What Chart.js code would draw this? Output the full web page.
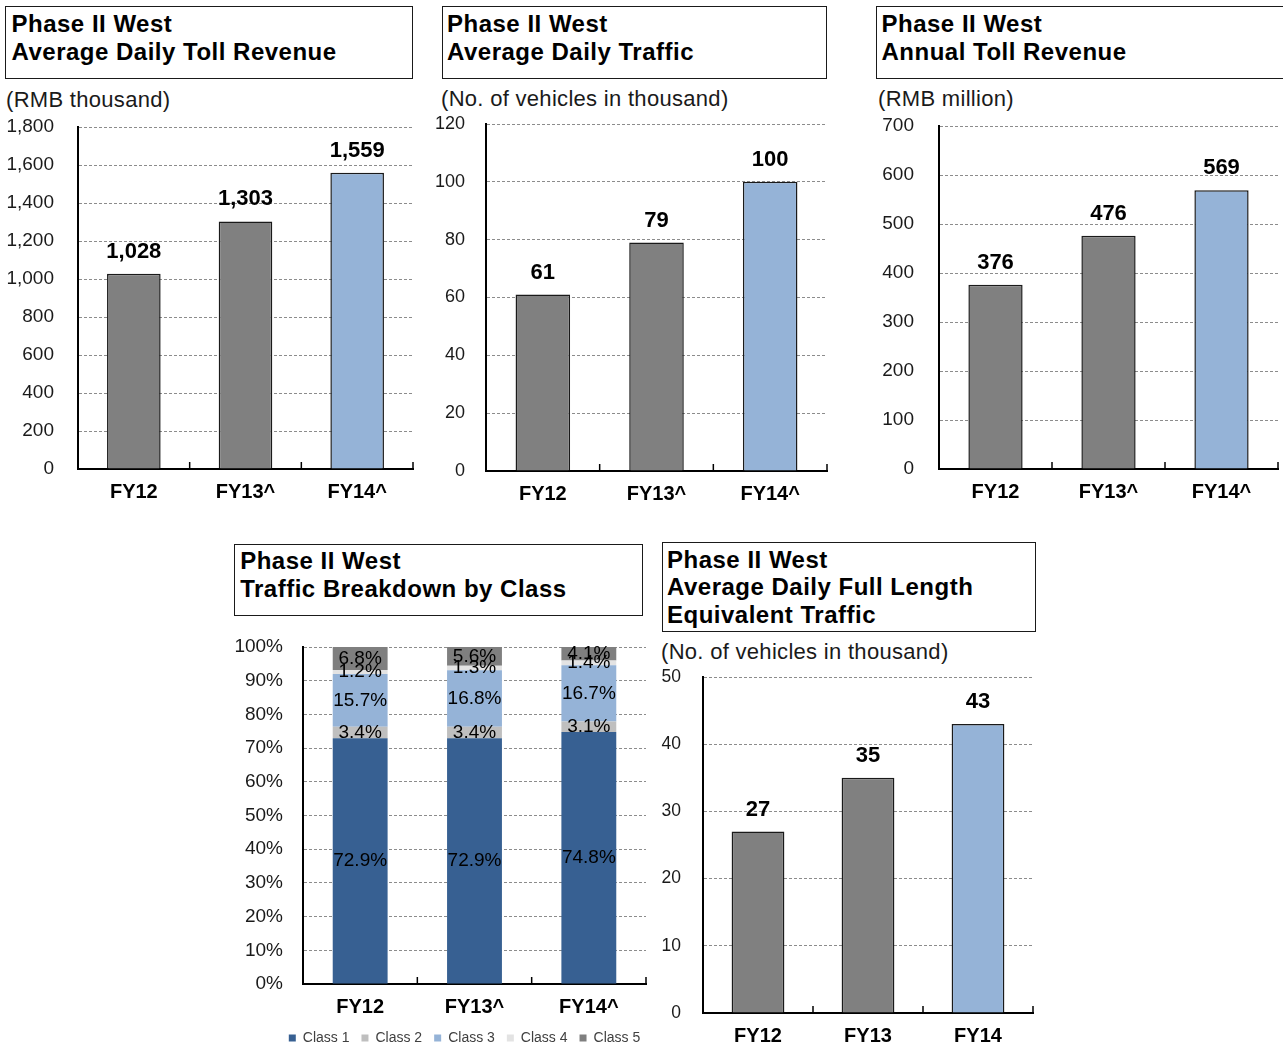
<!DOCTYPE html>
<html><head><meta charset="utf-8">
<script src="https://cdn.jsdelivr.net/npm/chart.js@4.4.1/dist/chart.umd.min.js"></script>
<style>
html,body{margin:0;padding:0;background:#fff;overflow:hidden;width:1283px;height:1051px;}
body{position:relative;font-family:'Liberation Sans',Arial,sans-serif;}
.tbox{position:absolute;box-sizing:border-box;border:1.5px solid #1a1a1a;font-weight:bold;font-size:24px;letter-spacing:0.5px;line-height:28.4px;color:#000;white-space:nowrap;overflow:hidden;}
.unit{position:absolute;font-size:22px;letter-spacing:0.3px;line-height:22px;color:#1a1a1a;white-space:nowrap;}
.wrap{position:absolute;}
</style></head><body>

<div class="tbox" style="left:5px;top:6px;width:408px;height:73px;padding:3px 0 0 5.5px;">Phase II West<br>Average Daily Toll Revenue</div>
<div class="tbox" style="left:442px;top:6px;width:385px;height:73px;padding:3px 0 0 4px;">Phase II West<br>Average Daily Traffic</div>
<div class="tbox" style="left:876px;top:6px;width:420px;height:73px;padding:3px 0 0 4.5px;">Phase II West<br>Annual Toll Revenue</div>
<div class="tbox" style="left:234px;top:544px;width:409px;height:72px;padding:1.7px 0 0 5.2px;">Phase II West<br>Traffic Breakdown by Class</div>
<div class="tbox" style="left:662px;top:542px;width:374px;height:90px;padding:2.7px 0 0 4px;line-height:27.5px;">Phase II West<br>Average Daily Full Length<br>Equivalent Traffic</div>

<div class="unit" style="left:6px;top:89px;">(RMB thousand)</div>
<div class="unit" style="left:441px;top:88px;">(No. of vehicles in thousand)</div>
<div class="unit" style="left:878px;top:88px;">(RMB million)</div>
<div class="unit" style="left:661px;top:641px;">(No. of vehicles in thousand)</div>

<div class="wrap" style="left:0px;top:110px;width:415px;height:400px;"><canvas id="c1"></canvas></div>
<div class="wrap" style="left:430px;top:108px;width:399px;height:403px;"><canvas id="c2"></canvas></div>
<div class="wrap" style="left:860px;top:110px;width:420px;height:399px;"><canvas id="c3"></canvas></div>
<div class="wrap" style="left:220px;top:630px;width:489px;height:425px;"><canvas id="c4"></canvas></div>
<div class="wrap" style="left:650px;top:660px;width:385px;height:393px;"><canvas id="c5"></canvas></div>

<script>
// ---- Data ----
const categories = ['FY12', 'FY13^', 'FY14^'];
const categoriesFLE = ['FY12', 'FY13', 'FY14'];
const dailyTollRevenue = [1028, 1303, 1559];      // RMB thousand
const dailyTraffic = [61, 79, 100];               // thousand vehicles
const annualTollRevenue = [376, 476, 569];        // RMB million
const class1Share = [72.9, 72.9, 74.8];
const class2Share = [3.4, 3.4, 3.1];
const class3Share = [15.7, 16.8, 16.7];
const class4Share = [1.2, 1.3, 1.4];
const class5Share = [6.8, 5.6, 4.1];
const classNames = ['Class 1', 'Class 2', 'Class 3', 'Class 4', 'Class 5'];
const fleTraffic = [27, 35, 43];                  // thousand vehicles

// ---- Styling ----
const FONT = "'Liberation Sans', Arial, sans-serif";
Chart.defaults.font.family = FONT;
Chart.defaults.color = '#1a1a1a';
Chart.defaults.animation = false;
const GRID = '#8c8c8c';
const GRAY = '#808080', LIGHTBLUE = '#95B3D7';
const barColors = [GRAY, GRAY, LIGHTBLUE];
const classColors = ['#376092', '#BFBFBF', '#95B3D7', '#E3E3E3', '#7F7F7F'];

const boundaryTicks = {
  id: 'boundaryTicks',
  afterDraw(chart) {
    const x = chart.scales.x, ctx = chart.ctx;
    const n = x.ticks.length, w = (x.right - x.left) / n;
    const b = chart.chartArea.bottom;
    ctx.save();
    ctx.strokeStyle = '#000';
    ctx.lineWidth = 1.5;
    for (let i = 1; i <= n; i++) {
      const px = x.left + i * w;
      ctx.beginPath();
      ctx.moveTo(px, b);
      ctx.lineTo(px, b - 7);
      ctx.stroke();
    }
    ctx.restore();
  }
};

const valueLabels = {
  id: 'valueLabels',
  afterDatasetsDraw(chart, args, opts) {
    const ctx = chart.ctx;
    ctx.save();
    ctx.fillStyle = '#000';
    ctx.textAlign = 'center';
    ctx.textBaseline = 'middle';
    chart.data.datasets.forEach((ds, di) => {
      if (!ds.data || !ds.data.length) return;
      const meta = chart.getDatasetMeta(di);
      meta.data.forEach((el, i) => {
        const v = ds.data[i];
        if (opts.mode === 'stack') {
          ctx.font = '19px ' + FONT;
          ctx.fillText(v.toFixed(1) + '%', el.x, (el.y + el.base) / 2);
        } else {
          ctx.font = 'bold 22px ' + FONT;
          ctx.fillText(v.toLocaleString('en-US'), el.x, el.y - 22);
        }
      });
    });
    ctx.restore();
  }
};

function yScale(max, step, size, pad, width, fmt) {
  return {
    min: 0, max: max,
    ticks: { stepSize: step, padding: pad, font: { size: size }, color: '#1a1a1a', callback: fmt },
    grid: { color: c => (c.tick && c.tick.value === 0) ? 'rgba(0,0,0,0)' : GRID, lineWidth: 1, drawTicks: false },
    border: { display: true, color: '#000', width: 2, dash: [3, 2] },
    afterFit(s) { s.width = width; s.paddingTop = 0; s.paddingBottom = 0; }
  };
}
function xScale(height, stacked) {
  return {
    stacked: !!stacked,
    grid: { display: false, drawTicks: false },
    border: { display: true, color: '#000', width: 2 },
    ticks: { font: { size: 20, weight: 'bold' }, color: '#000', padding: 11 },
    afterFit(s) { s.height = height; s.paddingLeft = 0; s.paddingRight = 0; }
  };
}

function barChart(id, labels, values, max, step, tickSize, tickPad, yWidth, padTop, xHeight) {
  return new Chart(document.getElementById(id), {
    type: 'bar',
    data: {
      labels: labels,
      datasets: [{
        data: values,
        backgroundColor: barColors,
        borderColor: '#1a1a1a',
        borderWidth: 1.5,
        barPercentage: 0.48,
        categoryPercentage: 1
      }]
    },
    options: {
      responsive: true,
      maintainAspectRatio: false,
      layout: { padding: { top: padTop, right: 2, left: 0, bottom: 0 } },
      plugins: { legend: { display: false }, tooltip: { enabled: false }, valueLabels: { mode: 'top' } },
      scales: {
        x: xScale(xHeight),
        y: yScale(max, step, tickSize, tickPad, yWidth, v => v.toLocaleString('en-US'))
      }
    },
    plugins: [valueLabels, boundaryTicks]
  });
}

barChart('c1', categories, dailyTollRevenue, 1800, 200, 19, 24, 78, 17, 41);
barChart('c2', categories, dailyTraffic, 120, 20, 18, 21, 56, 16, 40);
barChart('c3', categories, annualTollRevenue, 700, 100, 19, 25, 79, 16, 40);
barChart('c5', categoriesFLE, fleTraffic, 50, 10, 17.5, 22, 53, 17, 40);

const shares = [class1Share, class2Share, class3Share, class4Share, class5Share];
new Chart(document.getElementById('c4'), {
  type: 'bar',
  data: {
    labels: categories,
    datasets: shares.map((arr, k) => ({
      label: classNames[k],
      data: arr,
      backgroundColor: classColors[k],
      borderWidth: 0,
      barPercentage: 0.48,
      categoryPercentage: 1
    }))
  },
  options: {
    responsive: true,
    maintainAspectRatio: false,
    layout: { padding: { top: 17, right: 0, left: 0, bottom: 0 } },
    plugins: {
      tooltip: { enabled: false },
      valueLabels: { mode: 'stack' },
      legend: {
        display: true, position: 'bottom', align: 'center',
        labels: { boxWidth: 7, boxHeight: 7, padding: 12, font: { size: 14 }, color: '#404040' }
      }
    },
    scales: {
      x: xScale(35, true),
      y: Object.assign(yScale(100, 10, 19, 20, 83, v => v + '%'), { stacked: true }),
      yPad: {
        type: 'linear', position: 'right', display: true,
        grid: { display: false, drawTicks: false }, border: { display: false },
        ticks: { display: false },
        afterFit(s) { s.width = 63; s.paddingTop = 0; s.paddingBottom = 0; }
      }
    }
  },
  plugins: [valueLabels, boundaryTicks]
});
</script>
</body></html>
